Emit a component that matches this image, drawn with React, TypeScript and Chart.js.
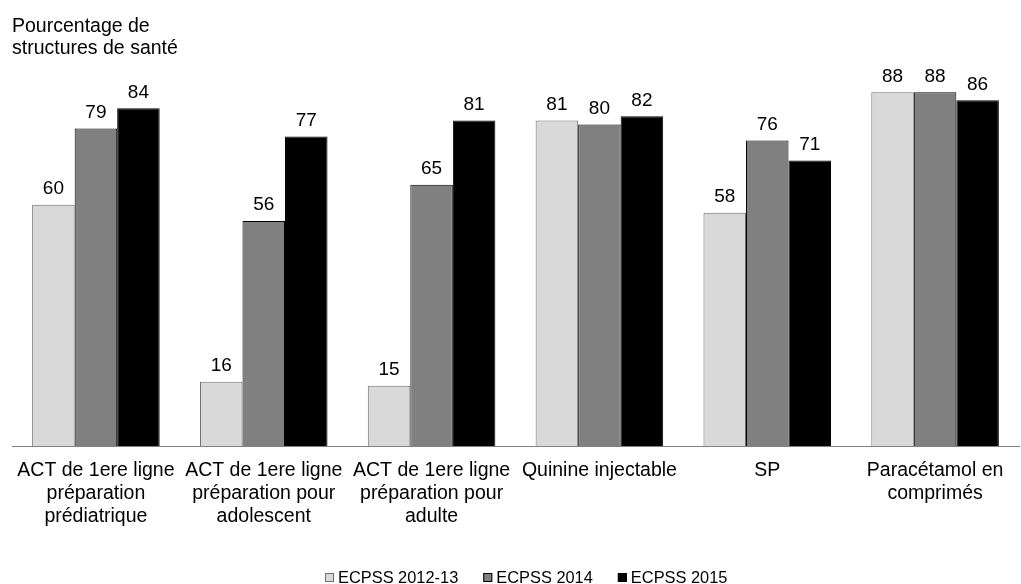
import React, { useEffect, useRef } from "react";
import { Chart, registerables } from "chart.js";

Chart.register(...registerables);

const categories: string[][] = [
  ["ACT de 1ere ligne", "préparation", "prédiatrique"],
  ["ACT de 1ere ligne", "préparation pour", "adolescent"],
  ["ACT de 1ere ligne", "préparation pour", "adulte"],
  ["Quinine injectable"],
  ["SP"],
  ["Paracétamol en", "comprimés"],
];
const seriesNames = ["ECPSS 2012-13", "ECPSS 2014", "ECPSS 2015"];
const values2012 = [60, 16, 15, 81, 58, 88];
const values2014 = [79, 56, 65, 80, 76, 88];
const values2015 = [84, 77, 81, 82, 71, 86];
const yTitleLines = ["Pourcentage de", "structures de santé"];

const FONT = "'Liberation Sans', Arial, sans-serif";

const labelPlugin = {
  id: "valueLabels",
  afterDatasetsDraw(chart: any) {
    const ctx = chart.ctx;
    ctx.save();
    ctx.font = `19px ${FONT}`;
    ctx.fillStyle = "#000";
    ctx.textAlign = "center";
    ctx.textBaseline = "alphabetic";
    chart.data.datasets.forEach((ds: any, i: number) => {
      const meta = chart.getDatasetMeta(i);
      meta.data.forEach((bar: any, j: number) => {
        ctx.fillText(String(ds.data[j]), bar.x, bar.y - 10.5);
      });
    });
    ctx.restore();
  },
};

const titlePlugin = {
  id: "yTitle",
  afterDraw(chart: any) {
    const ctx = chart.ctx;
    ctx.save();
    ctx.font = `19.5px ${FONT}`;
    ctx.fillStyle = "#000";
    ctx.textAlign = "left";
    ctx.textBaseline = "alphabetic";
    yTitleLines.forEach((l, i) => ctx.fillText(l, 12, 32 + i * 21.5));
    ctx.restore();
  },
};

const legendPlugin = {
  id: "customLegend",
  afterDraw(chart: any) {
    const ctx = chart.ctx;
    ctx.save();
    ctx.font = `16.4px ${FONT}`;
    ctx.textAlign = "left";
    ctx.textBaseline = "alphabetic";
    let x = 325;
    const baseY = 583;
    const boxTop = 573;
    chart.data.datasets.forEach((ds: any) => {
      ctx.fillStyle = ds.backgroundColor;
      ctx.strokeStyle = ds.borderColor;
      ctx.lineWidth = 1;
      ctx.fillRect(x, boxTop, 9, 9);
      ctx.strokeRect(x + 0.5, boxTop + 0.5, 8, 8);
      ctx.fillStyle = "#000";
      ctx.fillText(ds.label, x + 13, baseY);
      x += 13 + ctx.measureText(ds.label).width + 25;
    });
    ctx.restore();
  },
};

export default function App() {
  const ref = useRef<HTMLCanvasElement>(null);
  useEffect(() => {
    if (!ref.current) return;
    const chart = new Chart(ref.current, {
      type: "bar",
      data: {
        labels: categories,
        datasets: [
          { label: seriesNames[0], data: values2012, backgroundColor: "#D9D9D9", borderColor: "#707070", borderWidth: 1 },
          { label: seriesNames[1], data: values2014, backgroundColor: "#808080", borderColor: "#000000", borderWidth: 1 },
          { label: seriesNames[2], data: values2015, backgroundColor: "#000000", borderColor: "#000000", borderWidth: 1 },
        ],
      },
      options: {
        animation: false,
        responsive: false,
        maintainAspectRatio: false,
        layout: { padding: { left: 12, right: 2, top: 44, bottom: 51 } },
        datasets: { bar: { categoryPercentage: 0.76, barPercentage: 1 } },
        scales: {
          x: {
            grid: { display: false },
            border: { display: true, color: "#808080", width: 1 },
            ticks: {
              color: "#000",
              font: { family: FONT, size: 19.5, lineHeight: 23 / 19.5 },
              maxRotation: 0,
              autoSkip: false,
              padding: 5,
            },
          },
          y: { display: false, min: 0, max: 100 },
        },
        plugins: {
          legend: { display: false },
          tooltip: { enabled: false },
        },
      },
      plugins: [labelPlugin, titlePlugin, legendPlugin],
    });
    return () => chart.destroy();
  }, []);
  return (
    <div style={{ position: "absolute", left: 0, top: 0, width: 1021, height: 584, background: "#fff" }}>
      <canvas ref={ref} width={1021} height={584} />
    </div>
  );
}
